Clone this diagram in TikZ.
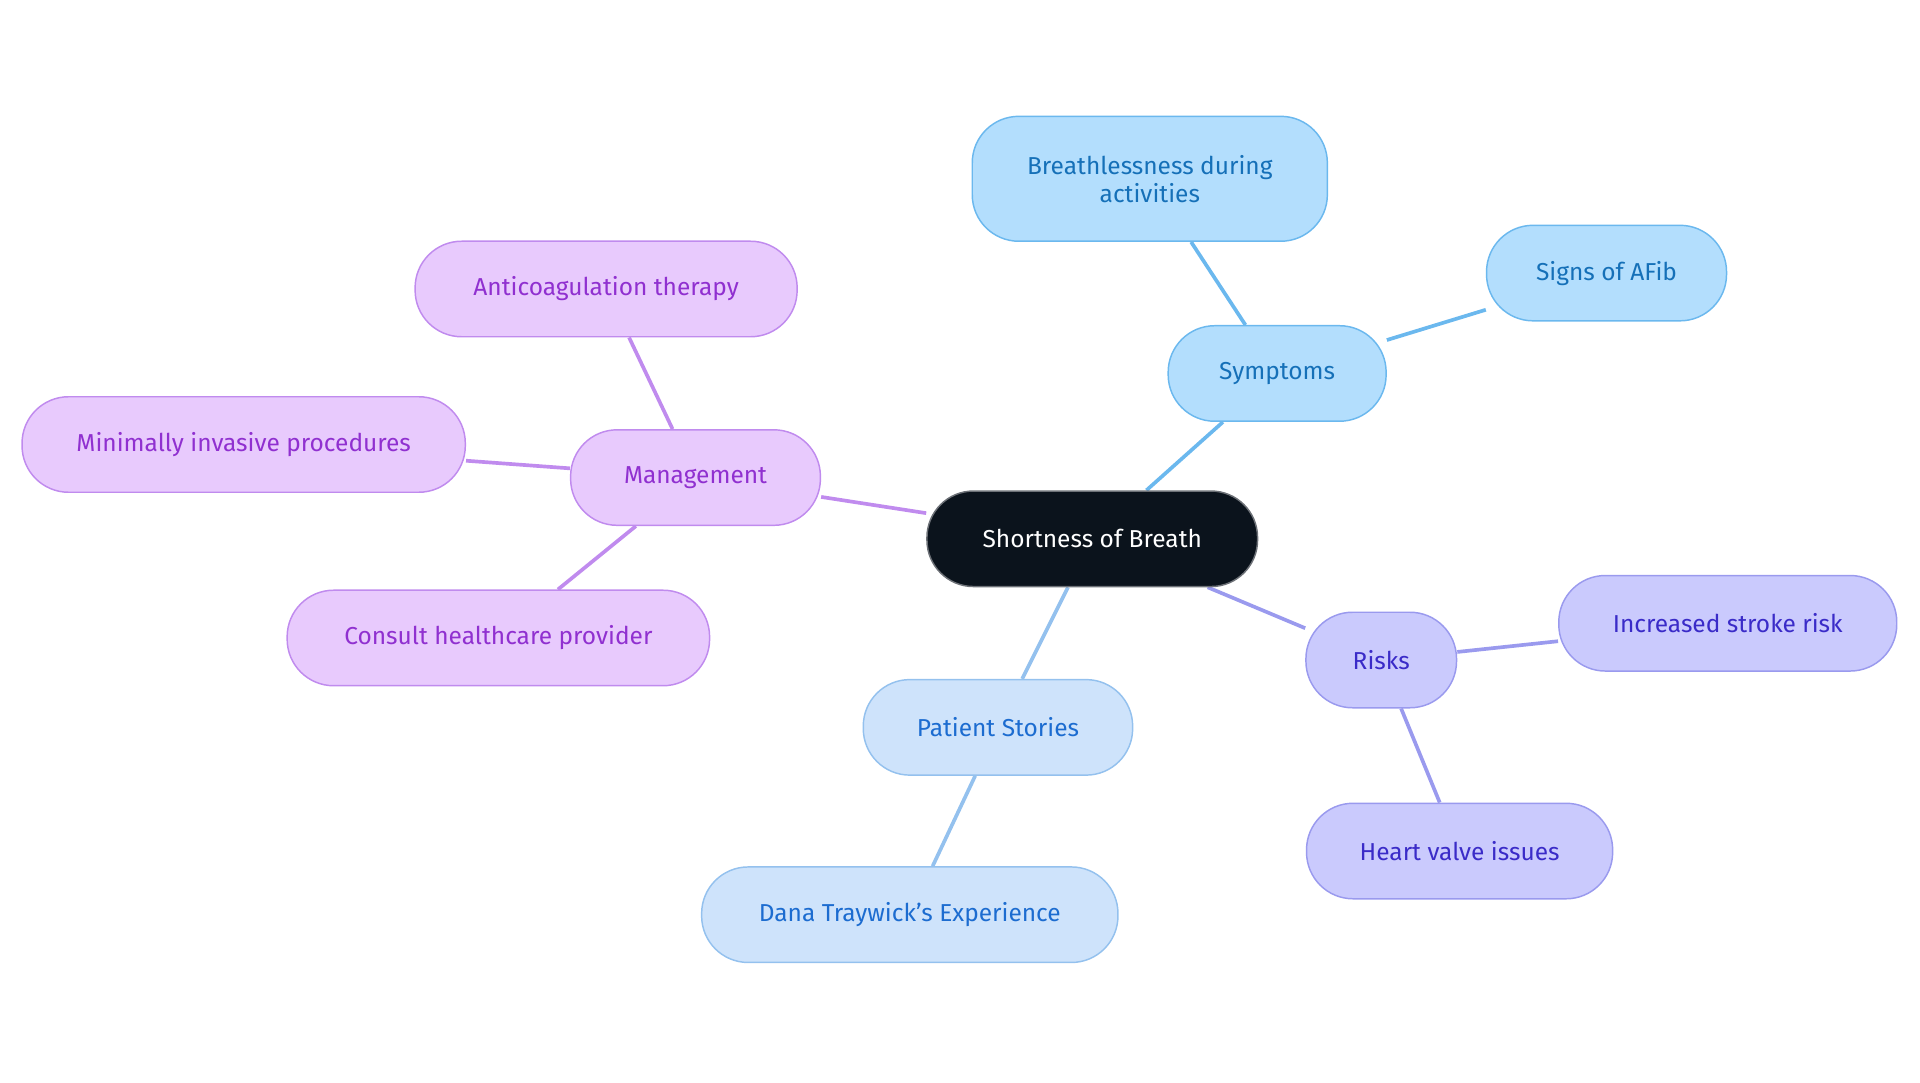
\documentclass[tikz,border=0pt]{standalone}
\usepackage{fontspec}
\setmainfont{Fira Sans}
\usetikzlibrary{backgrounds}
\definecolor{cblk}{HTML}{0B131C}
\definecolor{sF}{HTML}{B3DEFD}\definecolor{sB}{HTML}{6BB8EE}\definecolor{sT}{HTML}{1570B8}
\definecolor{mF}{HTML}{E8CAFD}\definecolor{mB}{HTML}{C08BEE}\definecolor{mT}{HTML}{9030D0}
\definecolor{pF}{HTML}{CEE3FB}\definecolor{pB}{HTML}{94C1EE}\definecolor{pT}{HTML}{1C6CD0}
\definecolor{rF}{HTML}{CACAFD}\definecolor{rB}{HTML}{9A9AEE}\definecolor{rT}{HTML}{3A2BC8}
\tikzset{
 b/.style={rounded corners=38pt,minimum height=78pt,line width=1.2pt,align=center,font=\fontsize{20}{23}\selectfont,inner sep=0pt},
 S/.style={b,fill=sF,draw=sB,text=sT},
 M/.style={b,fill=mF,draw=mB,text=mT},
 P/.style={b,fill=pF,draw=pB,text=pT},
 R/.style={b,fill=rF,draw=rB,text=rT},
 e/.style={line width=3pt}
}
\begin{document}
\begin{tikzpicture}[x=1pt,y=-1pt]
\useasboundingbox (0,0) rectangle (1568,884);
\node[b,fill=cblk,draw=cblk!60,text=white,minimum width=270pt] (c) at (892,440) {Shortness of Breath};
\node[S,minimum width=178pt] (s) at (1043,305) {Symptoms};
\node[S,minimum width=290pt,minimum height=102pt] (s1) at (939,146) {Breathlessness during\\activities};
\node[S,minimum width=196pt] (s2) at (1312,223) {Signs of AFib};
\node[M,minimum width=204pt] (m) at (568,390) {Management};
\node[M,minimum width=312pt] (m1) at (495,236) {Anticoagulation therapy};
\node[M,minimum width=362pt] (m2) at (199,363) {Minimally invasive procedures};
\node[M,minimum width=345pt] (m3) at (407,521) {Consult healthcare provider};
\node[P,minimum width=220pt] (p) at (815,594) {Patient Stories};
\node[P,minimum width=340pt] (p1) at (743,747) {Dana Traywick's Experience};
\node[R,minimum width=123pt] (r) at (1128,539) {Risks};
\node[R,minimum width=276pt] (r1) at (1411,509) {Increased stroke risk};
\node[R,minimum width=250pt] (r2) at (1192,695) {Heart valve issues};
\begin{scope}[on background layer]
\draw[e,sB] (c)--(s) (s)--(s1) (s)--(s2);
\draw[e,mB] (c)--(m) (m)--(m1) (m)--(m2) (m)--(m3);
\draw[e,pB] (c)--(p) (p)--(p1);
\draw[e,rB] (c)--(r) (r)--(r1) (r)--(r2);
\end{scope}
\end{tikzpicture}
\end{document}
